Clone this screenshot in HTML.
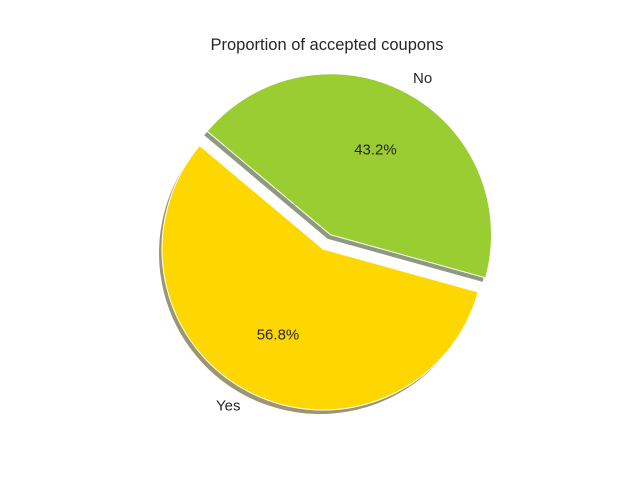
<!DOCTYPE html>
<html><head><meta charset="utf-8">
<style>
html,body{margin:0;padding:0;background:#fff;}
svg{display:block;font-family:"Liberation Sans","DejaVu Sans",sans-serif;}
</style></head>
<body>
<svg id="chart" width="640" height="480" viewBox="0 0 640 480">
<rect width="640" height="480" fill="#ffffff"/>
<text x="327" y="50" text-anchor="middle" font-size="16.5" fill="#262626">Proportion of accepted coupons</text>
<g id="shadows"></g>
<g id="wedges"></g>
<g id="labels"></g>
</svg>
<script>
const categories = ["Yes", "No"];
const values = [56.8, 43.2];
const colors = ["#ffd700", "#9acd32"];
const shadowColors = ["#9c9672", "#8e9a80"];
const explode = [0, 0.1];
const startAngle = 140;

const cx = 323, cy = 249, R = 161;
const NS = "http://www.w3.org/2000/svg";
const total = values.reduce((a, b) => a + b, 0);
function pt(x0, y0, r, deg) {
  const a = deg * Math.PI / 180;
  return [x0 + r * Math.cos(a), y0 - r * Math.sin(a)];
}
function wedgePath(x0, y0, a1, a2) {
  const p1 = pt(x0, y0, R, a1), p2 = pt(x0, y0, R, a2);
  const large = (a2 - a1) > 180 ? 1 : 0;
  return `M${x0},${y0} L${p1[0]},${p1[1]} A${R},${R} 0 ${large} 0 ${p2[0]},${p2[1]} Z`;
}
const sh = document.getElementById("shadows");
const wg = document.getElementById("wedges");
const lb = document.getElementById("labels");
let ang = startAngle;
values.forEach((v, i) => {
  const span = v / total * 360;
  const a1 = ang, a2 = ang + span, mid = (a1 + a2) / 2;
  const off = pt(0, 0, explode[i] * R, mid);
  const x0 = cx + off[0], y0 = cy + off[1];
  const s = document.createElementNS(NS, "path");
  s.setAttribute("d", wedgePath(x0 - 3, y0 + 4, a1, a2));
  s.setAttribute("fill", shadowColors[i]);
  
  
  sh.appendChild(s);
  const w = document.createElementNS(NS, "path");
  w.setAttribute("d", wedgePath(x0, y0, a1, a2));
  w.setAttribute("fill", colors[i]);
  w.setAttribute("stroke", "#ffffff");
  w.setAttribute("stroke-width", "1");
  
  
  wg.appendChild(w);
  const lp = pt(x0, y0, 1.1 * R, mid);
  const t = document.createElementNS(NS, "text");
  t.setAttribute("x", lp[0]);
  t.setAttribute("y", lp[1] + 5);
  t.setAttribute("font-size", "15");
  t.setAttribute("fill", "#262626");
  t.setAttribute("text-anchor", Math.cos(mid * Math.PI / 180) >= 0 ? "start" : "end");
  t.textContent = categories[i];
  
  
  lb.appendChild(t);
  const pp = pt(x0, y0, 0.6 * R, mid);
  const p = document.createElementNS(NS, "text");
  p.setAttribute("x", pp[0]);
  p.setAttribute("y", pp[1] + 5);
  p.setAttribute("font-size", "15");
  p.setAttribute("fill", "#262626");
  p.setAttribute("text-anchor", "middle");
  p.textContent = v.toFixed(1) + "%";
  
  
  lb.appendChild(p);
  ang = a2;
});
</script>
</body></html>
